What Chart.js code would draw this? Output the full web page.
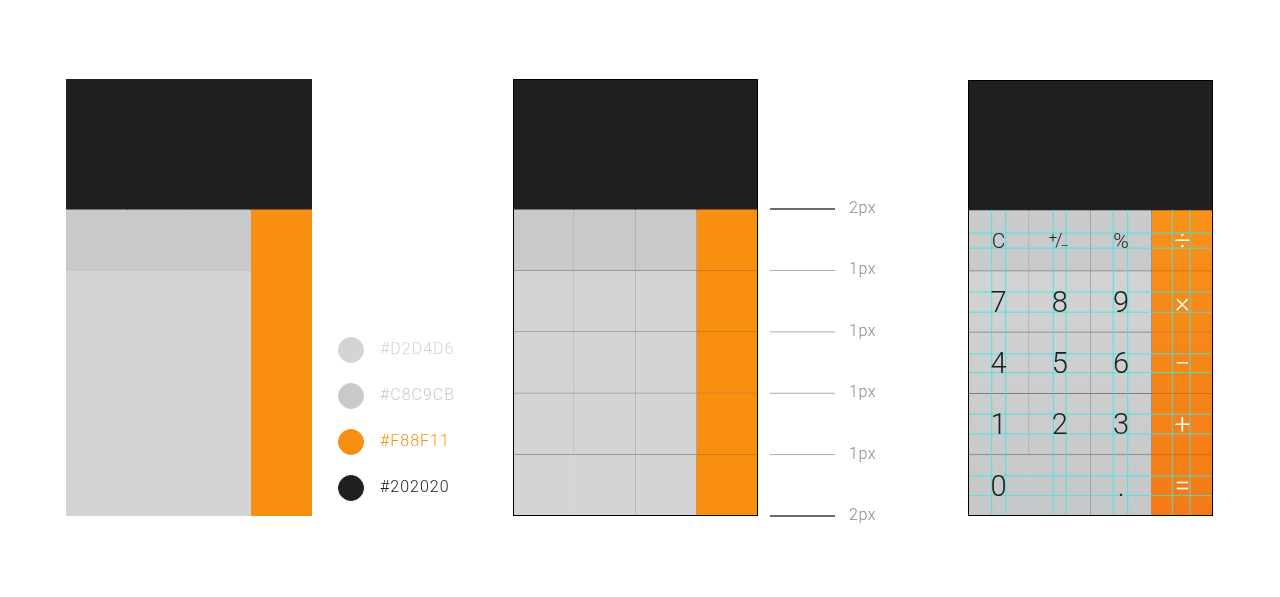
<!DOCTYPE html>
<html lang="en">
<head>
<meta charset="utf-8">
<title>Calculator keypad spec</title>
<script src="https://cdn.jsdelivr.net/npm/chart.js@4.4.1/dist/chart.umd.min.js"></script>
<style>
  html, body { margin: 0; background: #fff; }
  body { position: relative; width: 1280px; height: 597px; overflow: hidden; }
  canvas { position: absolute; }
</style>
</head>
<body>
<canvas id="flatChart" width="246" height="437" style="left:66px;top:79px"></canvas>
<canvas id="swatchChart" width="170" height="184" style="left:338px;top:327px"></canvas>
<canvas id="gridChart" width="245" height="437" style="left:513px;top:79px"></canvas>
<canvas id="dividerChart" width="125" height="447" style="left:770px;top:79px"></canvas>
<canvas id="glyphChart" width="245" height="436" style="left:968px;top:80px"></canvas>

<script>
// ─── Data ─────────────────────────────────────────────────────────
// y is measured in key rows from the bottom of the keypad

const columns = ['col1', 'col2', 'col3', 'ops'];
const displayRange = [5, 7.12];
const functionRange = [4, 5];
const digitRange = [0, 4];
const operatorRange = [0, 5];

const keyRows = [
  ['C', '+/−', '%', '÷'],
  ['7', '8', '9', '×'],
  ['4', '5', '6', '−'],
  ['1', '2', '3', '+'],
  ['0', '', '.', '='],
];

const swatchColors = ['#D2D4D6', '#C8C9CB', '#F88F11', '#202020'];
const swatchLabels = ['#D2D4D6', '#C8C9CB', '#F88F11', '#202020'];

const dividerRows = [5, 4, 3, 2, 1, 0];
const dividerLabels = ['2px', '1px', '1px', '1px', '1px', '2px'];
const dividerWidths = [2, 1, 1, 1, 1, 2];

// cyan glyph guides (columns / rows)
const guideCols = [0.387, 0.616, 1.393, 1.600, 2.372, 2.607, 3.336, 3.625];
const guideRows = [4.619, 4.374, 3.655, 3.328, 2.647, 2.342, 1.662, 1.340, 0.654, 0.332];

// ─── Styles ───────────────────────────────────────────────────────

const GLYPH_FONT = 'Roboto, "Open Sans", sans-serif';
const flat = { screen: '#202020', fn: '#C8C9CB', digit: '#D2D4D6', op: '#F88F11' };
const shade = {
  fn: ['#CACBCD', '#C4C5C7'],
  digit: ['#D5D6D8', '#C6C7C9'],
  op: ['#F8911A', '#F47A16'],
};

function baseOptions(extra) {
  return Object.assign({
    responsive: false,
    animation: false,
    events: [],
    layout: { padding: 0, autoPadding: false },
    plugins: { legend: { display: false }, tooltip: { enabled: false } },
  }, extra);
}

function keypadScales(extra) {
  return Object.assign({
    x: { type: 'category', display: false, offset: true },
    y: { type: 'linear', display: false, min: 0, max: displayRange[1] },
  }, extra);
}

function barSet(data, color, extra) {
  return Object.assign({
    data,
    backgroundColor: color,
    borderWidth: 0,
    barPercentage: 1,
    categoryPercentage: 1,
    inflateAmount: 0.5,
    grouped: false,
    order: 1,
  }, extra);
}

function keypadGradient(chart, role) {
  const y = chart.scales.y;
  if (!y || !chart.chartArea) return shade[role][0];
  const key = '_grad_' + role;
  if (!chart[key]) {
    const g = chart.ctx.createLinearGradient(0, y.getPixelForValue(5), 0, y.getPixelForValue(0));
    g.addColorStop(0, shade[role][0]);
    g.addColorStop(1, shade[role][1]);
    chart[key] = g;
  }
  return chart[key];
}

// one dataset per key row, each cell keeps only its right/bottom rule
function gridDatasets(fill, line, opLine) {
  const sets = [barSet(columns.map(() => displayRange), flat.screen)];
  keyRows.forEach((row, t) => {
    const b = keyRows.length - 1 - t;
    const role = (c) => (c === 3 ? 'op' : t === 0 ? 'fn' : 'digit');
    sets.push(barSet(row.map(() => [b, b + 1]), (ctx) => fill(ctx.chart, role(ctx.dataIndex)), {
      borderSkipped: false,
      borderColor: row.map((_, c) => (c === 3 ? opLine : line)),
      borderWidth: row.map((_, c) => ({
        top: 0,
        left: 0,
        bottom: b > 0 ? 1 : 0,
        right: c < 3 && !(b === 0 && c === 0) ? 1 : 0,
      })),
    }));
  });
  return sets;
}

// ─── Plugins ──────────────────────────────────────────────────────

const framePlugin = {
  id: 'frame',
  afterDraw(chart) {
    const { ctx, chartArea: a } = chart;
    ctx.save();
    ctx.strokeStyle = '#000';
    ctx.lineWidth = 1;
    ctx.strokeRect(a.left + 0.5, a.top + 0.5, a.width - 1, a.height - 1);
    ctx.restore();
  },
};

function drawPlusMinus(ctx, x, cy) {
  ctx.textBaseline = 'middle';
  ctx.font = `300 15px ${GLYPH_FONT}`;
  ctx.fillText('+', x - 7, cy - 2);
  ctx.font = `300 18px ${GLYPH_FONT}`;
  ctx.fillText('/', x - 1, cy + 1);
  ctx.font = `300 15px ${GLYPH_FONT}`;
  ctx.fillText('−', x + 5, cy + 7);
}

const keyLabelPlugin = {
  id: 'keyLabels',
  afterDatasetsDraw(chart) {
    const { ctx, scales: { gx, y } } = chart;
    ctx.save();
    ctx.textAlign = 'center';
    keyRows.forEach((row, t) => {
      const b = keyRows.length - 1 - t;
      row.forEach((label, c) => {
        if (!label) return;
        const x = gx.getPixelForValue(c + 0.5);
        const cy = y.getPixelForValue(b + 0.5);
        ctx.fillStyle = c === 3 ? '#ffffff' : '#1e1e1e';
        if (label === '+/−') { drawPlusMinus(ctx, x, cy); return; }
        const size = c === 3 ? 28 : t === 0 ? 21 : 29;
        ctx.font = `300 ${size}px ${GLYPH_FONT}`;
        ctx.textBaseline = 'alphabetic';
        ctx.fillText(label, x, cy + size * 0.355);
      });
    });
    ctx.restore();
  },
};

const swatchLabelPlugin = {
  id: 'swatchLabels',
  afterDatasetsDraw(chart) {
    const { ctx } = chart;
    const pts = chart.getDatasetMeta(0).data;
    ctx.save();
    ctx.font = `300 16px ${GLYPH_FONT}`;
    ctx.textBaseline = 'middle';
    ctx.textAlign = 'left';
    if ('letterSpacing' in ctx) ctx.letterSpacing = '1px';
    pts.forEach((pt, i) => {
      ctx.fillStyle = swatchColors[i];
      ctx.fillText(swatchLabels[i], pt.x + 29, pt.y);
    });
    ctx.restore();
  },
};

const dividerLabelPlugin = {
  id: 'dividerLabels',
  afterDatasetsDraw(chart) {
    const { ctx, chartArea, scales: { y } } = chart;
    ctx.save();
    ctx.font = `300 16px ${GLYPH_FONT}`;
    ctx.fillStyle = '#8a8a8a';
    ctx.textBaseline = 'middle';
    ctx.textAlign = 'left';
    if ('letterSpacing' in ctx) ctx.letterSpacing = '0.5px';
    dividerRows.forEach((r, i) => {
      ctx.fillText(dividerLabels[i], chartArea.right + 14, y.getPixelForValue(r));
    });
    ctx.restore();
  },
};

// ─── Charts ───────────────────────────────────────────────────────

// 1. flat colour blocks
new Chart(document.getElementById('flatChart'), {
  type: 'bar',
  data: {
    labels: columns,
    datasets: [
      barSet(columns.map(() => displayRange), flat.screen),
      barSet([functionRange, functionRange, functionRange, null], flat.fn),
      barSet([digitRange, digitRange, digitRange, null], flat.digit),
      barSet([null, null, null, operatorRange], flat.op),
    ],
  },
  options: baseOptions({ scales: keypadScales() }),
});

// 2. colour swatches
new Chart(document.getElementById('swatchChart'), {
  type: 'scatter',
  data: {
    datasets: [{
      data: swatchColors.map((_, i) => ({ x: 0, y: i })),
      pointRadius: 12.5,
      pointBackgroundColor: swatchColors,
      pointBorderColor: swatchColors,
      pointBorderWidth: 1,
      clip: false,
    }],
  },
  options: baseOptions({
    layout: { padding: { left: 13 }, autoPadding: false },
    scales: {
      x: { type: 'linear', display: false, min: 0, max: 1 },
      y: { type: 'linear', display: false, min: -0.5, max: 3.5, reverse: true },
    },
  }),
  plugins: [swatchLabelPlugin],
});

// 3. key grid with rules
new Chart(document.getElementById('gridChart'), {
  type: 'bar',
  data: { labels: columns, datasets: gridDatasets((chart, role) => flat[role], '#9a9b9d', '#cf7411') },
  options: baseOptions({ scales: keypadScales() }),
  plugins: [framePlugin],
});

// 4. rule widths
new Chart(document.getElementById('dividerChart'), {
  type: 'line',
  data: {
    datasets: dividerRows.map((r, i) => ({
      data: [{ x: 0, y: r }, { x: 1, y: r }],
      borderColor: dividerWidths[i] > 1 ? '#3c3c3c' : '#ababab',
      borderWidth: dividerWidths[i] > 1 ? 1.5 : 1,
      pointRadius: 0,
      clip: false,
    })),
  },
  options: baseOptions({
    layout: { padding: { right: 60, bottom: 10 }, autoPadding: false },
    scales: {
      x: { type: 'linear', display: false, min: 0, max: 1 },
      y: { type: 'linear', display: false, min: 0, max: displayRange[1] },
    },
  }),
  plugins: [dividerLabelPlugin],
});

// 5. glyphs with cyan guides
const guideStyle = {
  type: 'line',
  xAxisID: 'gx',
  borderColor: 'rgba(60, 232, 226, 0.85)',
  borderWidth: 1,
  pointRadius: 0,
  order: 0,
  clip: false,
};

new Chart(document.getElementById('glyphChart'), {
  type: 'bar',
  data: {
    labels: columns,
    datasets: [
      ...gridDatasets(keypadGradient, '#7e7f81', '#c46d12'),
      ...guideCols.map((g) => ({ ...guideStyle, data: [{ x: g, y: 0 }, { x: g, y: 5 }] })),
      ...guideRows.map((h) => ({ ...guideStyle, data: [{ x: 0, y: h }, { x: 4, y: h }] })),
    ],
  },
  options: baseOptions({
    scales: keypadScales({
      gx: { type: 'linear', display: false, min: 0, max: 4, offset: false, grid: { offset: false } },
    }),
  }),
  plugins: [keyLabelPlugin, framePlugin],
});
</script>
</body>
</html>
